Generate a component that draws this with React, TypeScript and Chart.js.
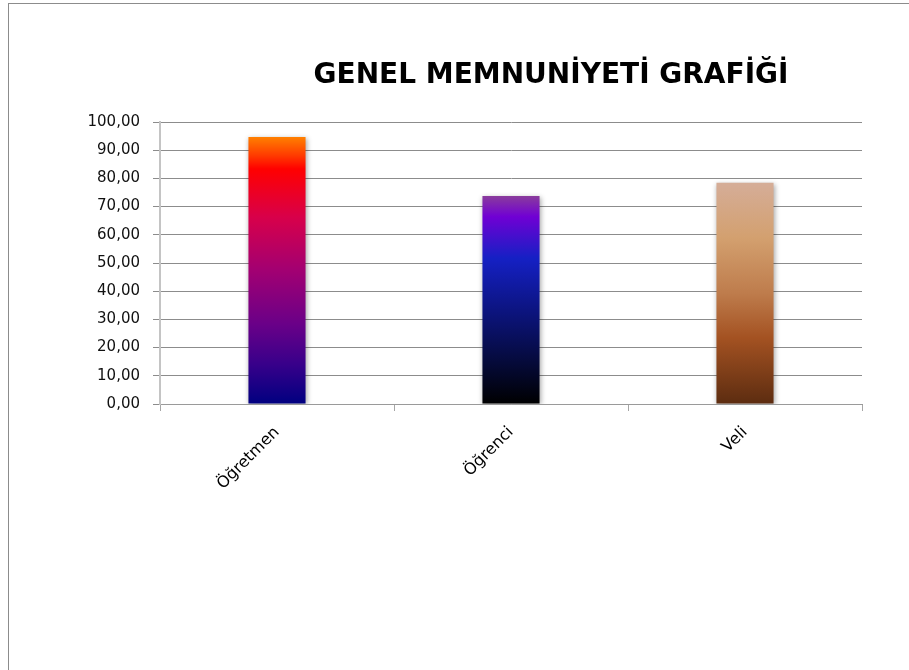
import React, { useEffect, useRef } from "react";
import { Chart, registerables } from "chart.js";

Chart.register(...registerables);

const TITLE = "GENEL MEMNUNİYETİ GRAFİĞİ";
const categories = ["Öğretmen", "Öğrenci", "Veli"];
const values = [94.7, 73.8, 78.5];
const yMin = 0;
const yMax = 100;
const yStep = 10;

// gradient stops per bar, from top (0) to base (1)
const ogretmenStops: [number, string][] = [
  [0, "#ff8000"],
  [0.07, "#ff3a00"],
  [0.12, "#ff0000"],
  [0.3, "#d8004a"],
  [0.5, "#a20072"],
  [0.7, "#6a0088"],
  [0.85, "#38008a"],
  [1, "#000080"],
];
const ogrenciStops: [number, string][] = [
  [0, "#8a3c9c"],
  [0.1, "#7000d4"],
  [0.3, "#1520c4"],
  [0.55, "#0c1480"],
  [0.8, "#050a3a"],
  [1, "#000000"],
];
const veliStops: [number, string][] = [
  [0, "#d5ad98"],
  [0.25, "#d3a06f"],
  [0.5, "#be7c4c"],
  [0.7, "#a45222"],
  [1, "#5c2c10"],
];
const barStops = [ogretmenStops, ogrenciStops, veliStops];

const FONT = "'DejaVu Sans', sans-serif";

const titlePlugin = {
  id: "customTitle",
  afterDraw(chart: any) {
    const ctx = chart.ctx;
    ctx.save();
    ctx.font = `bold 28px ${FONT}`;
    ctx.fillStyle = "#000";
    ctx.textAlign = "center";
    ctx.textBaseline = "alphabetic";
    ctx.fillText(TITLE, 542, 79);
    ctx.restore();
  },
};

const shadowPlugin = {
  id: "barShadow",
  beforeDatasetsDraw(chart: any) {
    const ctx = chart.ctx;
    ctx.save();
    ctx.shadowColor = "rgba(0,0,0,0.35)";
    ctx.shadowBlur = 5;
    ctx.shadowOffsetX = 1;
    ctx.shadowOffsetY = 1;
  },
  afterDatasetsDraw(chart: any) {
    chart.ctx.restore();
  },
};

export default function App() {
  const canvasRef = useRef<HTMLCanvasElement | null>(null);

  useEffect(() => {
    const canvas = canvasRef.current;
    if (!canvas) return;
    const chart = new Chart(canvas, {
      type: "bar",
      data: {
        labels: categories,
        datasets: [
          {
            data: values,
            borderWidth: 0,
            barPercentage: 0.244,
            categoryPercentage: 1,
            backgroundColor: (c: any) => {
              const ch = c.chart;
              const stops = barStops[c.dataIndex] || ogretmenStops;
              if (!ch.chartArea || c.raw === undefined) return stops[0][1];
              const y = ch.scales.y;
              const top = y.getPixelForValue(c.raw);
              const base = y.getPixelForValue(0);
              const g = ch.ctx.createLinearGradient(0, top, 0, base);
              stops.forEach(([o, col]) => g.addColorStop(o, col));
              return g;
            },
          },
        ],
      },
      options: {
        responsive: false,
        animation: false,
        layout: { padding: { top: 118, right: 47, bottom: 0, left: 0 } },
        plugins: {
          legend: { display: false },
          tooltip: { enabled: false },
          title: { display: false },
        },
        scales: {
          x: {
            afterFit: (s: any) => {
              s.height = 266;
            },
            grid: {
              offset: true,
              drawOnChartArea: false,
              drawTicks: true,
              tickLength: 7,
              tickColor: "#a6a6a6",
            },
            border: { color: "#9a9a9a", width: 1 },
            ticks: {
              minRotation: 45,
              maxRotation: 45,
              padding: 12,
              color: "#000",
              font: { family: FONT, size: 16 },
            },
          },
          y: {
            min: yMin,
            max: yMax,
            afterFit: (s: any) => {
              s.width = 151;
            },
            grid: {
              color: "#8c8c8c",
              lineWidth: 1,
              tickLength: 7,
            },
            border: { color: "#c4c4c4", width: 2 },
            ticks: {
              stepSize: yStep,
              padding: 13,
              color: "#111",
              font: { family: FONT, size: 15 },
              callback: (v: any) => Number(v).toFixed(2).replace(".", ","),
            },
          },
        },
      },
      plugins: [shadowPlugin, titlePlugin],
    });
    return () => chart.destroy();
  }, []);

  return (
    <div
      style={{
        position: "fixed",
        left: 8,
        top: 3,
        width: 901,
        height: 667,
        borderLeft: "1px solid #8c8c8c",
        borderTop: "1px solid #8c8c8c",
        background: "#fff",
      }}
    >
      <canvas
        ref={canvasRef}
        width={900}
        height={666}
        style={{ display: "block", width: 900, height: 666 }}
      />
    </div>
  );
}
